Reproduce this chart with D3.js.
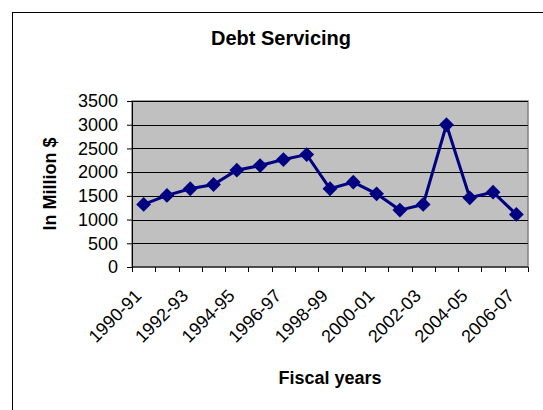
<!DOCTYPE html>
<html>
<head>
<meta charset="utf-8">
<script src="https://cdn.jsdelivr.net/npm/d3@7"></script>
<style>
  body { margin: 0; background: #fff; }
  text { font-family: "Liberation Sans", Arial, sans-serif; }
</style>
</head>
<body>
<div id="chart"></div>
<script>
const years = ['1990-91', '1991-92', '1992-93', '1993-94', '1994-95', '1995-96',
  '1996-97', '1997-98', '1998-99', '1999-00', '2000-01', '2001-02', '2002-03',
  '2003-04', '2004-05', '2005-06', '2006-07'];
const debt = [1319, 1509, 1649, 1740, 2041, 2139, 2265, 2370, 1649, 1789,
  1543, 1200, 1319, 3000, 1459, 1578, 1109];
const yTicks = [0, 500, 1000, 1500, 2000, 2500, 3000, 3500];

const width = 543;
const height = 410;
const margin = { top: 101, right: 15, bottom: 143, left: 132 };

const svg = d3.select('#chart')
  .append('svg')
  .attr('width', width)
  .attr('height', height);

// chart frame
svg.append('rect')
  .attr('x', 12.5).attr('y', 12.5)
  .attr('width', 560).attr('height', 420)
  .attr('fill', 'none').attr('stroke', '#000');

const x = d3.scaleBand()
  .domain(years)
  .range([margin.left, width - margin.right]);

const y = d3.scaleLinear()
  .domain([0, 3500])
  .range([height - margin.bottom, margin.top]);

// plot area
svg.append('rect')
  .attr('x', margin.left)
  .attr('y', margin.top)
  .attr('width', width - margin.left - margin.right)
  .attr('height', y(0) - margin.top)
  .attr('fill', '#c0c0c0')
  .attr('stroke', '#808080')
  .attr('stroke-width', 1.5);

// gridlines
svg.append('g')
  .selectAll('line')
  .data(yTicks.slice(1))
  .join('line')
    .attr('x1', margin.left).attr('x2', width - margin.right)
    .attr('y1', d => Math.round(y(d)) + 0.5).attr('y2', d => Math.round(y(d)) + 0.5)
    .attr('stroke', '#000');

function yAxis(g) {
  g.attr('transform', `translate(${margin.left},0)`)
    .call(d3.axisLeft(y).tickValues(yTicks).tickFormat(d3.format('d')).tickSize(5).tickPadding(9))
    .attr('font-size', '18px')
    .attr('font-family', '"Liberation Sans", Arial, sans-serif');
  g.selectAll('text').attr('fill', '#000');
}

// x axis with ticks between categories
const bounds = years.map(d => x(d)).concat([width - margin.right]);
const xg = svg.append('g');
xg.append('line')
  .attr('x1', margin.left).attr('x2', width - margin.right)
  .attr('y1', y(0)).attr('y2', y(0))
  .attr('stroke', '#000');
xg.selectAll('line.tick')
  .data(bounds)
  .join('line')
    .attr('class', 'tick')
    .attr('x1', d => Math.round(d) + 0.5).attr('x2', d => Math.round(d) + 0.5)
    .attr('y1', y(0)).attr('y2', y(0) + 5)
    .attr('stroke', '#000');
xg.selectAll('text')
  .data(years.filter((d, i) => i % 2 === 0))
  .join('text')
    .attr('transform', d => `translate(${x(d) + x.bandwidth() / 2 - 1},${y(0) + 30}) rotate(-45)`)
    .attr('text-anchor', 'end')
    .attr('font-size', '18px')
    .attr('fill', '#000')
    .text(d => d);

svg.append('g').call(yAxis);

// line
const line = d3.line()
  .x((d, i) => x(years[i]) + x.bandwidth() / 2)
  .y(d => y(d));

svg.append('path')
  .datum(debt)
  .attr('d', line)
  .attr('fill', 'none')
  .attr('stroke', '#000080')
  .attr('stroke-width', 3);

svg.append('g')
  .selectAll('path')
  .data(debt)
  .join('path')
    .attr('d', d3.symbol(d3.symbolSquare, 110))
    .attr('transform', (d, i) => `translate(${x(years[i]) + x.bandwidth() / 2},${y(d)}) rotate(45)`)
    .attr('fill', '#000080');

// titles
svg.append('text')
  .attr('x', 281).attr('y', 45)
  .attr('text-anchor', 'middle')
  .attr('font-size', '20px')
  .attr('font-weight', 'bold')
  .text('Debt Servicing');

svg.append('text')
  .attr('x', (margin.left + width - margin.right) / 2).attr('y', 384)
  .attr('text-anchor', 'middle')
  .attr('font-size', '18px')
  .attr('font-weight', 'bold')
  .text('Fiscal years');

svg.append('text')
  .attr('transform', `translate(56,${(margin.top + y(0)) / 2}) rotate(-90)`)
  .attr('text-anchor', 'middle')
  .attr('font-size', '18px')
  .attr('font-weight', 'bold')
  .text('In Million $');
</script>
</body>
</html>
